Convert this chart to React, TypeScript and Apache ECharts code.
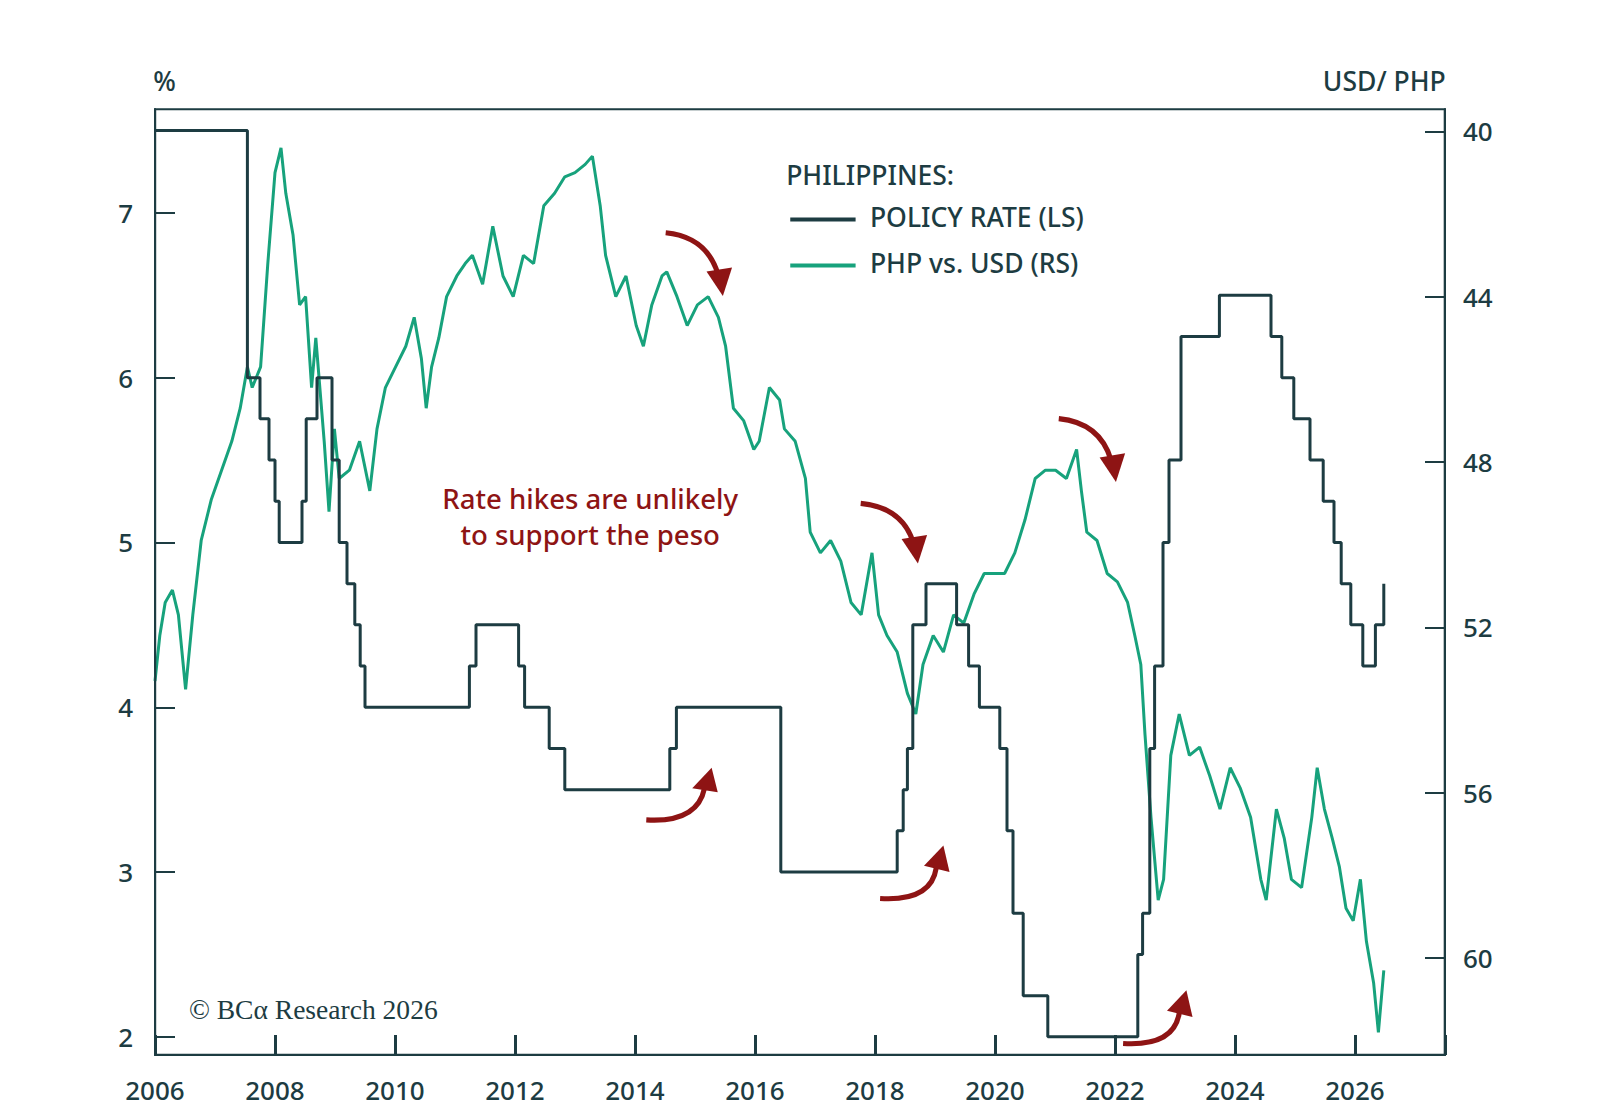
import React, { useEffect, useRef } from "react";
import * as echarts from "echarts";

const xTicks = [2006, 2008, 2010, 2012, 2014, 2016, 2018, 2020, 2022, 2024, 2026];
const leftTicks = [2, 3, 4, 5, 6, 7];
const rightTicks = [40, 44, 48, 52, 56, 60];

const policyRate: [number, number][] = [
  [2006.0, 7.5], [2007.54, 6.0], [2007.75, 5.75], [2007.9, 5.5], [2008.0, 5.25], [2008.07, 5.0],
  [2008.45, 5.25], [2008.52, 5.75], [2008.7, 6.0], [2008.95, 5.5], [2009.07, 5.0], [2009.2, 4.75],
  [2009.33, 4.5], [2009.42, 4.25], [2009.5, 4.0], [2011.24, 4.25], [2011.35, 4.5], [2012.06, 4.25],
  [2012.16, 4.0], [2012.57, 3.75], [2012.83, 3.5], [2014.58, 3.75], [2014.69, 4.0], [2016.43, 3.0],
  [2018.37, 3.25], [2018.47, 3.5], [2018.54, 3.75], [2018.63, 4.5], [2018.85, 4.75], [2019.36, 4.5],
  [2019.56, 4.25], [2019.74, 4.0], [2020.08, 3.75], [2020.2, 3.25], [2020.3, 2.75], [2020.47, 2.25],
  [2020.88, 2.0], [2022.38, 2.5], [2022.46, 2.75], [2022.58, 3.75], [2022.66, 4.25], [2022.8, 5.0],
  [2022.9, 5.5], [2023.1, 6.25], [2023.74, 6.5], [2024.6, 6.25], [2024.78, 6.0], [2024.98, 5.75],
  [2025.25, 5.5], [2025.47, 5.25], [2025.65, 5.0], [2025.77, 4.75], [2025.93, 4.5], [2026.13, 4.25],
  [2026.34, 4.5], [2026.48, 4.75],
];

const phpUsd: [number, number][] = [
  [2006.0, 53.3], [2006.08, 52.2], [2006.17, 51.4], [2006.29, 51.1], [2006.39, 51.7], [2006.51, 53.5], [2006.63, 51.7],
  [2006.77, 49.9], [2006.94, 48.9], [2007.11, 48.2], [2007.28, 47.5], [2007.42, 46.7], [2007.54, 45.7],
  [2007.62, 46.2], [2007.76, 45.7], [2007.88, 43.2], [2008.0, 41.0], [2008.1, 40.4], [2008.18, 41.5],
  [2008.3, 42.5], [2008.41, 44.2], [2008.51, 44.0], [2008.61, 46.2], [2008.68, 45.0], [2008.82, 47.5],
  [2008.9, 49.2], [2008.99, 47.2], [2009.07, 48.4], [2009.24, 48.2], [2009.41, 47.5], [2009.58, 48.7],
  [2009.7, 47.2], [2009.84, 46.2], [2010.01, 45.7], [2010.18, 45.2], [2010.32, 44.5], [2010.44, 45.5],
  [2010.52, 46.7], [2010.61, 45.7], [2010.73, 45.0], [2010.86, 44.0], [2011.03, 43.5], [2011.17, 43.2],
  [2011.29, 43.0], [2011.46, 43.7], [2011.63, 42.3], [2011.8, 43.5], [2011.97, 44.0], [2012.14, 43.0],
  [2012.31, 43.2], [2012.48, 41.8], [2012.66, 41.5], [2012.83, 41.1], [2013.0, 41.0], [2013.17, 40.8],
  [2013.29, 40.6], [2013.42, 41.8], [2013.51, 43.0], [2013.68, 44.0], [2013.85, 43.5], [2014.02, 44.7],
  [2014.14, 45.2], [2014.28, 44.2], [2014.45, 43.5], [2014.53, 43.4], [2014.7, 44.0], [2014.87, 44.7],
  [2015.04, 44.2], [2015.22, 44.0], [2015.39, 44.5], [2015.51, 45.2], [2015.64, 46.7], [2015.81, 47.0],
  [2015.98, 47.7], [2016.07, 47.5], [2016.24, 46.2], [2016.41, 46.5], [2016.49, 47.2], [2016.67, 47.5],
  [2016.84, 48.4], [2016.92, 49.7], [2017.09, 50.2], [2017.26, 49.9], [2017.43, 50.4], [2017.6, 51.4],
  [2017.77, 51.7], [2017.95, 50.2], [2018.06, 51.7], [2018.2, 52.2], [2018.37, 52.6], [2018.54, 53.6],
  [2018.68, 54.1], [2018.8, 52.9], [2018.97, 52.2], [2019.14, 52.6], [2019.31, 51.7], [2019.48, 51.9],
  [2019.65, 51.2], [2019.82, 50.7], [2019.99, 50.7], [2020.16, 50.7], [2020.33, 50.2], [2020.5, 49.4],
  [2020.67, 48.4], [2020.84, 48.2], [2021.01, 48.2], [2021.19, 48.4], [2021.36, 47.7], [2021.44, 48.7],
  [2021.53, 49.7], [2021.7, 49.9], [2021.87, 50.7], [2022.04, 50.9], [2022.21, 51.4], [2022.33, 52.2],
  [2022.43, 52.9], [2022.5, 54.6], [2022.6, 56.6], [2022.72, 58.6], [2022.81, 58.1], [2022.93, 55.1],
  [2023.07, 54.1], [2023.24, 55.1], [2023.41, 54.9], [2023.58, 55.6], [2023.75, 56.4], [2023.92, 55.4],
  [2024.09, 55.9], [2024.26, 56.6], [2024.43, 58.1], [2024.52, 58.6], [2024.69, 56.4], [2024.82, 57.1],
  [2024.94, 58.1], [2025.11, 58.3], [2025.28, 56.6], [2025.37, 55.4], [2025.49, 56.4], [2025.62, 57.1],
  [2025.74, 57.8], [2025.85, 58.8], [2025.97, 59.1], [2026.09, 58.1], [2026.19, 59.6], [2026.31, 60.6],
  [2026.39, 61.8], [2026.48, 60.3],
];

const DARK = "#1d3c42";
const GREEN = "#17a27c";
const RED = "#8e1414";
const FONT = "'Noto Sans', sans-serif";
const S = 1.021;

function arrow(sx: number, sy: number, cx: number, cy: number, ex: number, ey: number, tip: number[], b1: number[], b2: number[]) {
  return [
    { type: "bezierCurve", shape: { x1: sx, y1: sy, cpx1: cx, cpy1: cy, x2: ex, y2: ey }, style: { stroke: RED, lineWidth: 5, fill: "none" } },
    { type: "polygon", shape: { points: [tip, b1, b2] }, style: { fill: RED } },
  ];
}

export default function App() {
  const ref = useRef<HTMLDivElement>(null);
  useEffect(() => {
    document.body.style.margin = "0";
    const chart = echarts.init(ref.current!, null, { renderer: "svg" });
    const axisLabel = { color: DARK, fontSize: 26, fontWeight: 500, fontFamily: FONT };
    const tick = { show: true, inside: true, length: 20, lineStyle: { color: DARK, width: 3 } };
    chart.setOption({
      animation: false,
      backgroundColor: "#fff",
      grid: { left: 155, right: 155, top: 109, bottom: 53 },
      xAxis: {
        type: "value", min: 2006, max: 2027.5, interval: 2,
        axisLine: { lineStyle: { color: DARK, width: 2 } },
        axisTick: tick,
        axisLabel: { ...axisLabel, margin: 22, formatter: (v: number) => (xTicks.includes(v) ? String(v) : "") },
        splitLine: { show: false },
      },
      yAxis: [
        {
          type: "value", min: 1.89, max: 7.63,
          axisLine: { show: true, lineStyle: { color: DARK, width: 2 } },
          axisTick: { ...tick, lineStyle: { color: DARK, width: 2 }, customValues: leftTicks },
          axisLabel: { ...axisLabel, margin: 22, customValues: leftTicks },
          splitLine: { show: false },
        },
        {
          type: "value", inverse: true, min: 39.46, max: 62.35, position: "right",
          axisLine: { show: true, lineStyle: { color: DARK, width: 2 } },
          axisTick: { ...tick, lineStyle: { color: DARK, width: 2 }, customValues: rightTicks },
          axisLabel: { ...axisLabel, margin: 18, customValues: rightTicks },
          splitLine: { show: false },
        },
      ],
      series: [
        { type: "line", data: phpUsd, yAxisIndex: 1, showSymbol: false, lineStyle: { color: GREEN, width: 3 }, z: 2 },
        { type: "line", data: policyRate, yAxisIndex: 0, step: "end", showSymbol: false, lineStyle: { color: DARK, width: 3 }, z: 3 },
      ],
      graphic: [
        {
          type: "group", x: 0, y: 0, scaleX: S, scaleY: S,
          children: [
            { type: "rect", shape: { x: 152, y: 107, width: 1263, height: 926 }, style: { fill: "none", stroke: DARK, lineWidth: 2 }, z: 10 },
            { type: "text", x: 150, y: 66, style: { text: "%", font: `500 26px ${FONT}`, fill: DARK } },
            { type: "text", x: 1416, y: 66, style: { text: "USD/ PHP", font: `500 26px ${FONT}`, fill: DARK, align: "right" } },
            { type: "text", x: 770, y: 158, style: { text: "PHILIPPINES:", font: `500 26px ${FONT}`, fill: DARK } },
            { type: "line", shape: { x1: 774, y1: 215, x2: 838, y2: 215 }, style: { stroke: DARK, lineWidth: 4 } },
            { type: "text", x: 852, y: 200, style: { text: "POLICY RATE (LS)", font: `500 26px ${FONT}`, fill: DARK } },
            { type: "line", shape: { x1: 774, y1: 260, x2: 838, y2: 260 }, style: { stroke: GREEN, lineWidth: 4 } },
            { type: "text", x: 852, y: 245, style: { text: "PHP vs. USD (RS)", font: `500 26px ${FONT}`, fill: DARK } },
            { type: "text", x: 578, y: 470, style: { text: "Rate hikes are unlikely\nto support the peso", font: `500 27px ${FONT}`, fill: RED, align: "center", lineHeight: 36 } },
            { type: "text", x: 185, y: 975, style: { text: "© BCα Research 2026", font: `27px 'Liberation Serif', serif`, fill: DARK } },
            ...arrow(652, 228, 692, 232, 703, 268, [708, 290], [692, 266], [717, 262]),
            ...arrow(1037, 410, 1077, 414, 1088, 450, [1093, 472], [1077, 448], [1102, 444]),
            ...arrow(843, 493, 883, 497, 894, 530, [899, 552], [883, 528], [908, 524]),
            ...arrow(633, 803, 683, 806, 690, 772, [697, 752], [678, 772], [703, 776]),
            ...arrow(862, 880, 912, 883, 917, 850, [924, 828], [905, 848], [930, 854]),
            ...arrow(1100, 1022, 1150, 1025, 1155, 992, [1162, 970], [1143, 990], [1168, 996]),
          ],
        },
      ],
    });
    return () => chart.dispose();
  }, []);
  return <div ref={ref} style={{ width: 1600, height: 1108 }} />;
}
